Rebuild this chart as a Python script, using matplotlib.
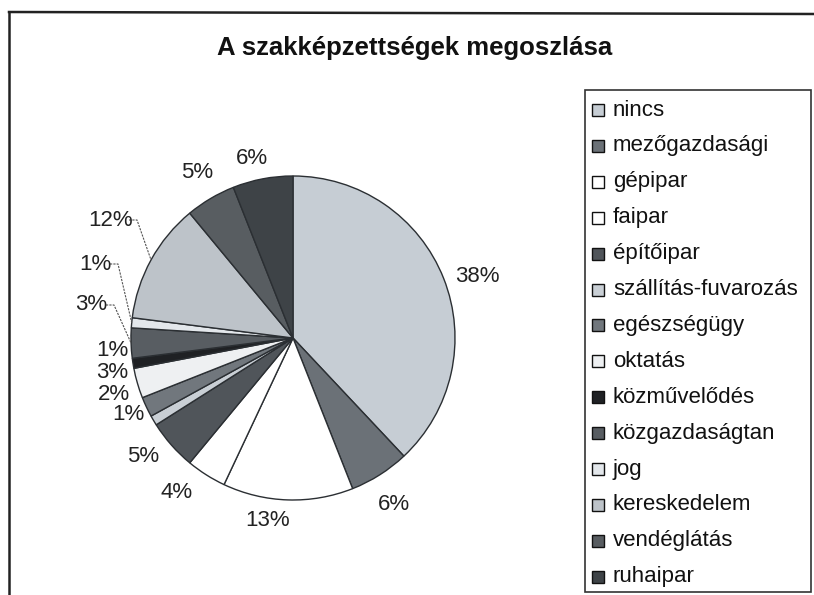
import numpy as np
import matplotlib.pyplot as plt
from matplotlib.patches import Rectangle

plt.rcParams['font.family'] = ['Liberation Sans', 'DejaVu Sans']

# Share of qualifications (percent), clockwise from 12 o'clock
categories = ["nincs", "mezőgazdasági", "gépipar", "faipar", "építőipar",
              "szállítás-fuvarozás", "egészségügy", "oktatás", "közművelődés",
              "közgazdaságtan", "jog", "kereskedelem", "vendéglátás", "ruhaipar"]
shares = [38, 6, 13, 4, 5, 1, 2, 3, 1, 3, 1, 12, 5, 6]
colors = ["#c6cdd4", "#6b7177", "#ffffff", "#ffffff", "#50555a", "#c9cfd5",
          "#71777d", "#eef0f2", "#1f2124", "#585d62", "#e3e7eb", "#bdc3c9",
          "#585d61", "#3e4347"]

W, H = 814, 595
cx, cy, R = 293, 338, 162

# label centres in pixel coordinates (y down)
label_xy = [(477, 277), (394, 505), (268, 520), (177, 493), (143, 457),
            (128, 414), (114, 394), (112, 373), (112, 350), (91, 305),
            (95, 264), (111, 220), (197, 172), (252, 158)]
leader = {9, 10, 11}

fig = plt.figure(figsize=(W / 100, H / 100), dpi=100)
ax = fig.add_axes([0, 0, 1, 1])

# y axis runs downward, so counterclock=True draws clockwise on screen
wedges, _ = ax.pie(shares, colors=colors, startangle=-90, counterclock=True,
                   center=(cx, cy), radius=R,
                   wedgeprops=dict(edgecolor="#2b2f33", linewidth=1.0))
ax.set_xlim(0, W)
ax.set_ylim(H, 0)
ax.set_aspect("equal")
ax.axis("off")

cum = np.cumsum([0] + shares[:-1])
for i, (v, (lx, ly)) in enumerate(zip(shares, label_xy)):
    ax.text(lx, ly, f"{v}%", fontsize=16, color="#222222",
            ha="center", va="center")
    if i in leader:
        mid = np.deg2rad((cum[i] + v / 2) * 3.6)
        ex, ey = cx + R * np.sin(mid), cy - R * np.cos(mid)
        sx = lx + 18 if v >= 10 else lx + 15
        ax.plot([sx, sx + 8, ex], [ly, ly, ey], color="#555555",
                linewidth=0.8, linestyle=(0, (2, 1)))

ax.text(415, 48, "A szakképzettségek megoszlása", fontsize=18.5,
        fontweight="bold", ha="center", va="center", color="#111111")

# chart frame
ax.plot([9, 9], [12, H], color="#222222", linewidth=1.8, clip_on=False)
ax.plot([9, W], [12, 14], color="#222222", linewidth=1.8, clip_on=False)

# legend
ax.add_patch(Rectangle((585, 90), 226, 502, facecolor="white",
                       edgecolor="#333333", linewidth=1.2))
for i, (name, c) in enumerate(zip(categories, colors)):
    y = 110 + i * 35.9
    ax.add_patch(Rectangle((592, y - 6), 12, 12, facecolor=c,
                           edgecolor="#111111", linewidth=1.0))
    ax.text(613, y, name, fontsize=16, color="#111111", ha="left",
            va="center")

fig.savefig("out.png", dpi=100)
